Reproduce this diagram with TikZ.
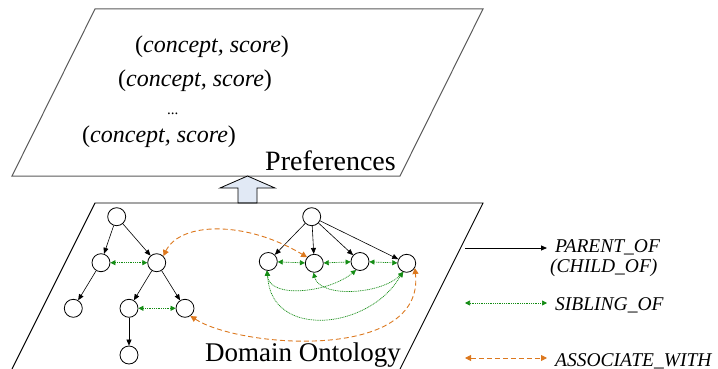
\documentclass[tikz,border=0pt]{standalone}
\usepackage{fontspec}
\setmainfont{Liberation Serif}
\usetikzlibrary{arrows.meta}
\definecolor{assoccol}{RGB}{220,120,30}
\definecolor{sibcol}{RGB}{20,140,20}
\definecolor{arrowfill}{RGB}{225,233,245}
\definecolor{framecol}{RGB}{90,90,90}
\begin{document}
\begin{tikzpicture}[x=1pt,y=-1pt,
  concept/.style={circle,draw,line width=0.8pt,minimum size=18pt,inner sep=0pt},
  tree/.style={-{Triangle[length=6pt,width=5pt]},line width=0.6pt},
  sib/.style={{Triangle[length=5pt,width=5pt]}-{Triangle[length=5pt,width=5pt]},sibcol,dash pattern=on 1pt off 0.8pt,line width=0.7pt},
  assoc/.style={{Triangle[length=6pt,width=6pt]}-{Triangle[length=6pt,width=6pt]},assoccol,dash pattern=on 5pt off 3pt,line width=0.9pt},
  pair/.style={anchor=base west,inner sep=0pt,font=\fontsize{24}{28}\selectfont},
  title/.style={anchor=base west,inner sep=0pt,font=\fontsize{28}{32}\selectfont},
  legend/.style={anchor=base west,inner sep=0pt,font=\fontsize{19.5}{22}\selectfont\itshape}]
\useasboundingbox (0,0) rectangle (718,369);

% upper plane: preferences
\draw[framecol,line width=1pt] (95,9) -- (483,9) -- (400,176) -- (12,176) -- cycle;
\node[pair] (p1) at (135,53) {(\textit{concept, score})};
\node[pair] (p2) at (118,87) {(\textit{concept, score})};
\node[pair,font=\fontsize{15}{18}\selectfont] (p3) at (167,114) {...};
\node[pair] (p4) at (82,142) {(\textit{concept, score})};
\node[title] (pref) at (265,170) {Preferences};

% block arrow
\draw[line width=0.8pt,fill=arrowfill] (238,203) -- (238,188) -- (220,188) -- (247.5,176) -- (275,188) -- (257,188) -- (257,203) -- cycle;

% lower plane: domain ontology
\draw[line width=0.9pt] (12,369) -- (95,203) -- (483,203) -- (400,369);
\node[title,font=\fontsize{27}{31}\selectfont] (dom) at (205,361) {Domain Ontology};

% left tree
\node[concept] (A) at (116.7,216.7) {};
\node[concept] (B) at (101,262.7) {};
\node[concept] (C) at (156.7,262.7) {};
\node[concept] (D) at (73.3,308.3) {};
\node[concept] (E) at (129,308.3) {};
\node[concept] (F) at (185,308.3) {};
\node[concept] (G) at (129,355) {};
\draw[tree] (A) -- (B);
\draw[tree] (A) -- (C);
\draw[tree] (B) -- (D);
\draw[tree] (C) -- (E);
\draw[tree] (C) -- (F);
\draw[tree] (E) -- (G);
\draw[sib] (B) -- (C);
\draw[sib] (E) -- (F);

% right tree
\node[concept] (R) at (311.7,216.7) {};
\node[concept] (R1) at (268.3,261.5) {};
\node[concept] (R2) at (314.3,263.3) {};
\node[concept] (R3) at (360,261.5) {};
\node[concept] (R4) at (406.7,263.3) {};
\draw[tree] (R) -- (R1);
\draw[tree] (R) -- (R2);
\draw[tree] (R) -- (R3);
\draw[tree] (R) -- (R4);
\draw[sib] (R1) -- (R2);
\draw[sib] (R2) -- (R3);
\draw[sib] (R3) -- (R4);
\draw[sib] (R1.-100) .. controls (270,300) and (330,292) .. (R3.-115);
\draw[sib] (R1.-95) .. controls (270,340) and (370,330) .. (R4.-115);
\draw[sib] (R2.-95) .. controls (320,298) and (380,295) .. (R4.-110);

% association links
\draw[assoc] (C.45) .. controls (180,222) and (245,220) .. (R2.140);
\draw[assoc] (F.-55) .. controls (240,348) and (425,362) .. (R4.-30);

% legend
\coordinate (l1a) at (465,248);
\coordinate (l1b) at (547,248);
\coordinate (l2a) at (465,303);
\coordinate (l2b) at (547,303);
\coordinate (l3a) at (465,358);
\coordinate (l3b) at (547,358);
\draw[tree,line width=0.8pt] (l1a) -- (l1b);
\draw[sib] (l2a) -- (l2b);
\draw[assoc] (l3a) -- (l3b);
\node[legend] (t1) at (555,252) {PARENT\_OF};
\node[legend] (t1b) at (550,272) {(CHILD\_OF)};
\node[legend] (t2) at (555,310) {SIBLING\_OF};
\node[legend] (t3) at (555,366) {ASSOCIATE\_WITH};
\end{tikzpicture}
\end{document}
